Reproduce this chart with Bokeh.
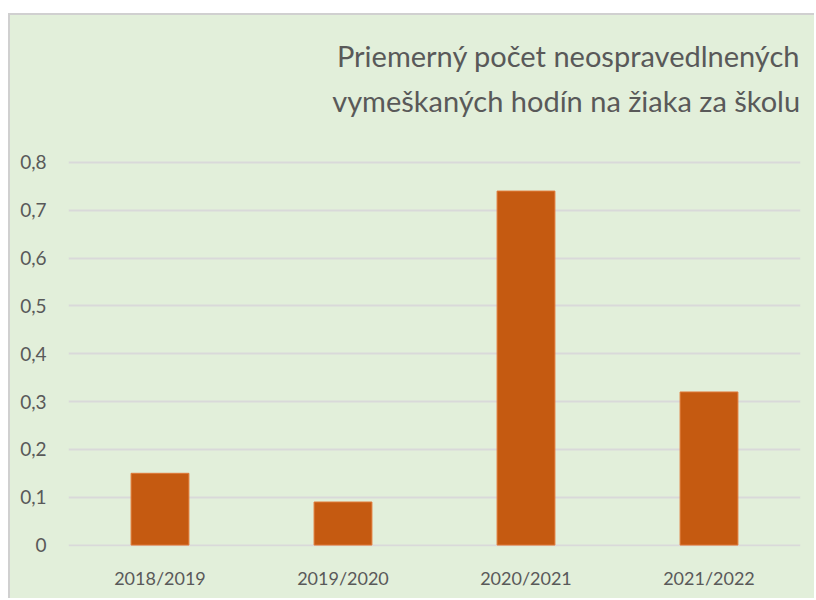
from bokeh.plotting import figure
from bokeh.models import FixedTicker, Label, Spacer
from bokeh.layouts import column, row
from bokeh.embed import file_html
from bokeh.resources import INLINE

# data
categories = ["2018/2019", "2019/2020", "2020/2021", "2021/2022"]
values = [0.15, 0.09, 0.74, 0.32]
y_ticks = [0, 0.1, 0.2, 0.3, 0.4, 0.5, 0.6, 0.7, 0.8]
y_tick_labels = ["0", "0,1", "0,2", "0,3", "0,4", "0,5", "0,6", "0,7", "0,8"]
title_lines = ["Priemerný počet neospravedlnených", "vymeškaných hodín na žiaka za školu"]

BG = "#E2EFDA"
TXT = "#595959"
FONT = "Lato"

# the frame reaches up to the top so that the two-line title can sit inside it
p = figure(x_range=categories, y_range=(-0.003, 1.107), width=806, height=585,
           output_backend="svg", toolbar_location=None,
           min_border_left=58, min_border_right=16, min_border_top=0, min_border_bottom=54)
p.styles = {"border-left": "2px solid #D0D0D0", "border-top": "2px solid #D0D0D0",
            "background-color": BG}
p.background_fill_alpha = 0
p.border_fill_alpha = 0
p.outline_line_color = None

p.vbar(x=categories, top=values, width=0.316, fill_color="#C55A11", line_color="#E07A3A", line_width=1)

p.xgrid.grid_line_color = None
p.ygrid.grid_line_color = "#D9D9D9"
p.ygrid.grid_line_width = 2
p.ygrid.ticker = FixedTicker(ticks=y_ticks)

p.yaxis.ticker = FixedTicker(ticks=y_ticks)
p.yaxis.major_label_overrides = {t: l for t, l in zip(y_ticks, y_tick_labels)}
for ax in (p.xaxis, p.yaxis):
    ax.axis_line_color = None
    ax.major_tick_line_color = None
    ax.minor_tick_line_color = None
    ax.major_label_text_color = TXT
    ax.major_label_text_font = FONT
p.yaxis.major_label_text_font_size = "19px"
p.xaxis.major_label_text_font_size = "18px"
p.yaxis.major_label_standoff = 16
p.xaxis.major_label_standoff = 14

for i, line in enumerate(title_lines):
    p.add_layout(Label(x=3.998, y=1.023 - i * 0.094, text=line, text_align="right",
                       text_baseline="alphabetic", text_font=FONT,
                       text_font_size="29px", text_color=TXT))

layout = row(Spacer(width=8, height=600), column(Spacer(height=13, width=806), p, spacing=0), spacing=0)
open("out.html", "w").write(file_html(layout, INLINE))
